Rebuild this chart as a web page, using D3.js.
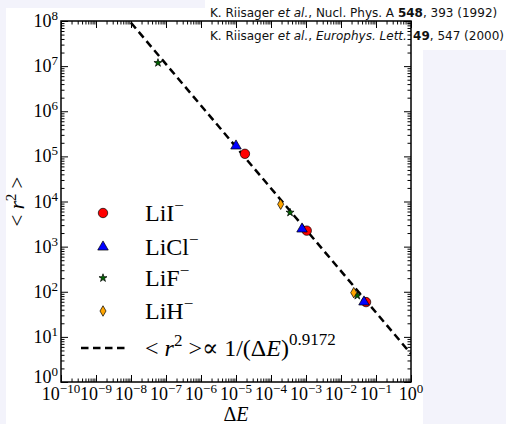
<!DOCTYPE html>
<html><head><meta charset="utf-8">
<script src="https://cdn.jsdelivr.net/npm/d3@7"></script>
<style>
html,body{margin:0;padding:0;background:#f3f3fb;}
svg{display:block;}
</style></head>
<body>
<svg id="chart" width="506" height="424"></svg>
<script>
// ---- data ----
const seriesNames = ["LiI", "LiCl", "LiF", "LiH"];
const liI_dE  = [1.8e-5, 1.05e-3, 0.052];
const liI_r2  = [1.14e5, 2.26e3, 59];
const liCl_dE = [1.0e-5, 7.7e-4, 0.0454];
const liCl_r2 = [1.7e5, 2.46e3, 59.4];
const liF_dE  = [5.9e-8, 3.5e-4, 0.0292];
const liF_r2  = [1.18e7, 5.7e3, 81.9];
const liH_dE  = [1.89e-4, 0.0231];
const liH_r2  = [8.7e3, 95.5];
const fitCoef = 4.2;
const fitExp = 0.9172;
const fitRange = [1e-8, 1];
const xTickExps = [-10,-9,-8,-7,-6,-5,-4,-3,-2,-1,0];
const yTickExps = [0,1,2,3,4,5,6,7,8];
const refs = [
  ["K. Riisager\u00A0", ["et al.", "i"], ", Nucl. Phys. A\u00A0", ["548", "b"], ", 393 (1992)"],
  ["K. Riisager\u00A0", ["et al.", "i"], ",\u00A0", ["Europhys. Lett.", "i"], ["\u00A049", "b", 2], ", 547 (2000)"]
];

const svg = d3.select("#chart");
// white backgrounds
svg.append("rect").attr("x",6).attr("y",8).attr("width",417).attr("height",416).attr("fill","#fff");
svg.append("rect").attr("x",205).attr("y",0).attr("width",301).attr("height",50).attr("fill","#fff");

const L = 61, R = 411, T = 21, B = 382;
const x = d3.scaleLog().domain([1e-10, 1]).range([L, R]);
const y = d3.scaleLog().domain([1, 1e8]).range([B, T]);

const serif = "'Liberation Serif','DejaVu Serif',serif";
const sans = "'DejaVu Sans','Liberation Sans',sans-serif";

// minor tick values
const xMinor = [], yMinor = [];
for (let e = -10; e < 0; e++) for (let k = 2; k <= 9; k++) xMinor.push(k * Math.pow(10, e));
for (let e = 0; e < 8; e++) for (let k = 2; k <= 9; k++) yMinor.push(k * Math.pow(10, e));
const xMajor = xTickExps.map(e => Math.pow(10, e));
const yMajor = yTickExps.map(e => Math.pow(10, e));

function styleAxis(g){ g.select(".domain").remove(); g.selectAll("line").attr("stroke","#000").attr("stroke-width",1); }
const mk = [() => d3.axisBottom(x), () => d3.axisTop(x), () => d3.axisLeft(y), () => d3.axisRight(y)];
const trs = [`translate(0,${B})`, `translate(0,${T})`, `translate(${L},0)`, `translate(${R},0)`];
mk.forEach((f, i) => {
  const isX = i < 2;
  svg.append("g").attr("transform", trs[i])
    .call(f().tickValues(isX ? xMajor : yMajor).tickSize(-7).tickFormat(""))
    .call(styleAxis);
  svg.append("g").attr("transform", trs[i])
    .call(f().tickValues(isX ? xMinor : yMinor).tickSize(-3.5).tickFormat(""))
    .call(styleAxis);
});

// frame
svg.append("rect").attr("x",L).attr("y",T).attr("width",R-L).attr("height",B-T)
  .attr("fill","none").attr("stroke","#000").attr("stroke-width",1.5);

// tick labels
function powLabel(sel, e){
  sel.append("tspan").text("10");
  sel.append("tspan").attr("dy",-7).attr("font-size",13).text(e < 0 ? "\u2212" + (-e) : String(e));
}
xTickExps.forEach(e => {
  const t = svg.append("text").attr("x", x(Math.pow(10,e))).attr("y", B+18)
    .attr("text-anchor","middle").attr("font-family",serif).attr("font-size",18);
  powLabel(t, e);
});
yTickExps.forEach(e => {
  const t = svg.append("text").attr("x", L-3).attr("y", y(Math.pow(10,e))+ (e===0 ? 1 : 6))
    .attr("text-anchor","end").attr("font-family",serif).attr("font-size",18);
  powLabel(t, e);
});

// axis labels
const xl = svg.append("text").attr("x",(L+R)/2).attr("y",421).attr("text-anchor","middle")
  .attr("font-family",serif).attr("font-size",20);
xl.append("tspan").text("\u0394");
xl.append("tspan").attr("font-style","italic").text("E");
const yl = svg.append("text").attr("transform",`translate(24,${(T+B)/2}) rotate(-90)`).attr("text-anchor","middle")
  .attr("font-family",serif).attr("font-size",21);
yl.append("tspan").text("< ");
yl.append("tspan").attr("font-style","italic").text("r");
yl.append("tspan").attr("dy",-8).attr("font-size",15).text("2");
yl.append("tspan").attr("dy",8).text(" >");

// clip
svg.append("clipPath").attr("id","clip").append("rect").attr("x",L).attr("y",T).attr("width",R-L).attr("height",B-T);

// fit line
const line = d3.line().x(d => x(d)).y(d => y(fitCoef * Math.pow(d, -fitExp)));
svg.append("path").attr("clip-path","url(#clip)").datum(fitRange).attr("d", line)
  .attr("fill","none").attr("stroke","#000").attr("stroke-width",2.5).attr("stroke-dasharray","7.5,4.5");

// markers
const sym = {
  LiI: {type: d3.symbolCircle, size: 70, fill: "#ff0000"},
  LiCl: {type: d3.symbolTriangle, size: 48, fill: "#0000ff"},
  LiF: {type: d3.symbolStar, size: 20, fill: "#006400"},
  LiH: {type: d3.symbolDiamond, size: 32, fill: "#ffa500"}
};
const data = {
  LiI: [liI_dE, liI_r2], LiCl: [liCl_dE, liCl_r2], LiF: [liF_dE, liF_r2], LiH: [liH_dE, liH_r2]
};
function drawMarker(name, px, py){
  const s = sym[name];
  svg.append("path").attr("d", d3.symbol().type(s.type).size(s.size)())
    .attr("transform", `translate(${px},${py})`)
    .attr("fill", s.fill).attr("stroke","#000").attr("stroke-width", 0.7);
}
["LiI","LiCl","LiF","LiH"].forEach(name => {
  const [xs, ys] = data[name];
  xs.forEach((v, i) => drawMarker(name, x(v), y(ys[i])));
});

// legend
const legY = [213, 247, 278, 311];
seriesNames.forEach((n, i) => {
  drawMarker(n, 103, legY[i]);
  const t = svg.append("text").attr("x",145).attr("y",legY[i]+8).attr("font-family",serif).attr("font-size",24);
  t.append("tspan").text(n);
  t.append("tspan").attr("dy",-10).attr("font-size",17).text("\u2212");
});
svg.append("line").attr("x1",81).attr("x2",126).attr("y1",348).attr("y2",348)
  .attr("stroke","#000").attr("stroke-width",2.5).attr("stroke-dasharray","7.5,4.5");
const lt = svg.append("text").attr("x",145).attr("y",356).attr("font-family",serif).attr("font-size",24);
lt.append("tspan").text("< ");
lt.append("tspan").attr("font-style","italic").text("r");
lt.append("tspan").attr("dy",-10).attr("font-size",17).text("2");
lt.append("tspan").attr("dy",10).text(" >\u221D 1/(\u0394");
lt.append("tspan").attr("font-style","italic").text("E");
lt.append("tspan").text(")");
lt.append("tspan").attr("dy",-11).attr("font-size",17).text("0.9172");

// references
refs.forEach((parts, i) => {
  const t = svg.append("text").attr("x",210).attr("y",17 + i*23).attr("font-family",sans).attr("font-size",12)
    .attr("fill","#111");
  parts.forEach(p => {
    if (typeof p === "string") t.append("tspan").text(p);
    else {
      const ts = t.append("tspan").text(p[0]);
      if (p[2]) ts.attr("dx", p[2]);
      if (p[1] === "i") ts.attr("font-style","italic"); else ts.attr("font-weight","bold");
    }
  });
});
</script>
</body></html>
